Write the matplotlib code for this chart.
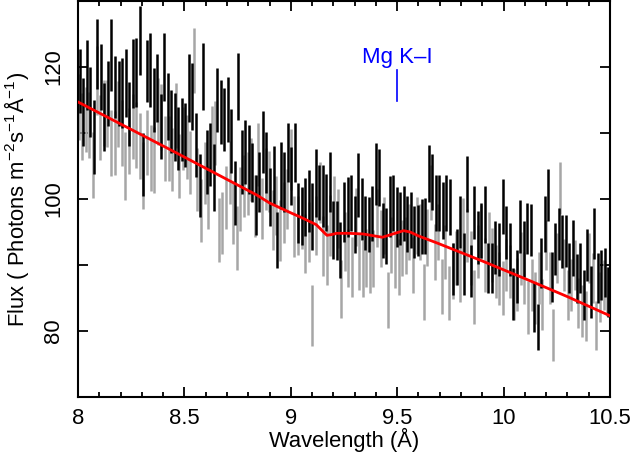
import numpy as np
import matplotlib
matplotlib.use("Agg")
import matplotlib.pyplot as plt
from matplotlib.ticker import MultipleLocator

plt.rcParams.update({
    "font.family": ["Liberation Sans", "DejaVu Sans"],
    "mathtext.fontset": "custom",
    "mathtext.rm": "Liberation Sans",
    "mathtext.it": "Liberation Sans:italic",
    "mathtext.bf": "Liberation Sans:bold",
    "font.size": 15.8,
})

# first spectrum (black), bin centres spread evenly over 8-10.5 A
black_flux = [
    117.9, 113.2, 118.8, 114.7, 109.4, 122.0, 118.5, 112.4, 116.0, 121.8, 117.0, 116.0, 116.0,
    117.6, 112.9, 119.0, 119.2, 124.0, 105.2, 119.4, 119.5, 115.0, 116.8, 111.0, 120.0, 114.0,
    111.7, 110.9, 109.2, 110.5, 109.7, 116.8, 115.5, 108.2, 102.0, 118.6, 105.6, 106.7, 103.3,
    115.0, 113.2, 112.0, 113.6, 108.8, 100.9, 117.0, 105.6, 107.1, 106.0, 104.0, 99.1, 102.6,
    108.6, 105.5, 100.3, 103.6, 93.8, 103.6, 102.6, 107.0, 103.5, 107.0, 97.9, 97.4, 98.8,
    99.7, 97.3, 102.4, 101.0, 100.4, 99.5, 102.6, 95.3, 95.2, 92.3, 98.0, 98.8,
    99.4, 96.1, 102.1, 98.5, 96.4, 96.1, 97.8, 103.8, 103.3, 95.2, 94.4, 98.9, 99.4,
    97.3, 97.1, 97.8, 96.2, 96.8, 95.0, 95.2, 95.8, 95.9, 103.9, 102.6, 99.4,
    99.4, 98.3, 99.4, 98.8, 89.4, 91.2, 96.5, 90.2, 102.3, 89.1, 97.9, 94.2, 95.2,
    97.6, 89.5, 89.5, 92.6, 92.3, 98.9, 94.9, 92.3, 85.6, 88.2, 95.8, 92.4, 95.5,
    95.3, 83.6, 80.6, 90.3, 96.2, 100.6, 88.2, 92.4, 94.7, 93.5, 93.6, 89.5,
    92.6, 88.0, 89.5, 85.5, 91.5, 85.9, 94.8, 88.0, 88.5, 88.8, 85.9,
]
black_err = [
    4.9, 5.2, 5.3, 5.3, 5.6, 5.3, 5.0, 5.1, 4.9, 5.4, 4.7, 4.9, 5.3,
    5.2, 4.9, 5.2, 5.2, 5.2, 4.8, 4.7, 5.6, 4.9, 5.1, 4.9, 5.2, 5.1,
    4.8, 5.1, 4.8, 4.8, 4.8, 5.1, 5.1, 4.8, 4.8, 5.1, 4.8, 4.8, 5.1,
    4.8, 4.8, 4.8, 4.9, 4.8, 4.9, 5.1, 4.8, 4.8, 5.2, 4.5, 4.5, 4.5,
    4.7, 4.6, 4.4, 4.5, 4.3, 5.1, 4.5, 4.5, 4.4, 4.5, 4.5, 4.4, 4.4,
    4.7, 5.1, 5.1, 4.2, 4.7, 4.3, 4.5, 4.4, 4.5, 4.2, 4.5, 4.5,
    4.3, 4.3, 4.8, 4.7, 4.1, 4.2, 4.2, 4.7, 4.3, 4.2, 4.2, 4.6, 4.3,
    4.5, 4.0, 4.2, 4.2, 4.3, 4.0, 3.9, 4.2, 4.2, 4.3, 4.2, 4.2,
    4.2, 4.3, 4.3, 4.3, 3.9, 4.3, 4.0, 4.7, 4.2, 3.9, 4.0, 4.0, 4.2,
    4.3, 3.8, 3.8, 4.0, 4.0, 4.2, 4.0, 4.0, 3.9, 4.0, 4.0, 4.2, 3.9,
    4.0, 3.8, 3.5, 3.8, 4.2, 4.0, 3.8, 3.9, 3.9, 4.0, 3.9, 3.8,
    4.2, 3.7, 3.8, 3.8, 3.9, 3.9, 3.9, 3.8, 3.8, 3.7, 3.8,
]

# second spectrum (grey)
grey_flux = [
    114.0, 111.0, 112.0, 111.2, 105.2, 118.0, 110.8, 113.0, 113.0, 108.5, 108.5, 112.9, 110.0,
    105.0, 108.8, 111.0, 109.7, 108.0, 103.6, 108.6, 106.2, 105.9, 113.3, 112.4, 107.6,
    107.7, 106.0, 112.6, 105.0, 109.2, 107.9, 105.5, 121.0, 103.0, 98.3, 104.0, 100.2, 109.2,
    110.0, 95.3, 96.4, 100.2, 104.0, 97.9, 94.1, 100.0, 102.0, 102.3, 104.5, 99.0, 106.7,
    98.6, 103.0, 102.6, 96.8, 99.0, 95.2, 98.0, 100.0, 106.0, 95.8, 96.0, 97.0, 93.3,
    95.0, 82.3, 96.0, 101.0, 92.9, 91.5, 96.0, 99.0, 97.0, 86.4, 93.6, 91.0, 89.7,
    97.3, 90.5, 89.5, 91.0, 90.0, 91.0, 97.1, 94.0, 96.0, 84.7, 93.0, 90.8,
    89.7, 92.6, 93.0, 95.0, 90.0, 96.0, 95.0, 85.9, 94.2, 101.0, 92.0, 95.0,
    86.7, 92.0, 85.8, 89.1, 91.0, 88.5, 96.0, 94.5, 91.0, 85.2, 92.0, 95.0, 90.0,
    94.0, 91.5, 89.0, 88.0, 86.5, 90.0, 89.0, 85.5, 87.0, 91.0, 88.0, 83.5,
    87.0, 85.0, 88.0, 84.0, 93.0, 88.0, 79.4, 91.0, 101.7, 90.0, 85.5,
    87.0, 90.0, 84.2, 83.0, 82.3, 91.0, 88.0, 80.8, 85.2, 87.0, 86.0,
]
grey_err = [
    5.0, 5.1, 4.9, 5.0, 5.0, 5.2, 4.9, 5.0, 5.1, 5.0, 4.9, 5.0, 5.0,
    5.1, 5.0, 4.9, 5.0, 5.0, 5.1, 4.9, 5.0, 5.0, 5.1, 5.0, 4.9,
    4.9, 4.8, 4.9, 4.8, 4.8, 4.9, 4.8, 4.9, 4.8, 4.8, 4.7, 4.8, 4.9,
    4.8, 4.8, 4.7, 4.8, 4.8, 4.7, 4.8, 4.8, 4.7, 4.8, 4.8, 4.7, 4.8,
    4.6, 4.7, 4.6, 4.6, 4.5, 4.6, 4.6, 4.5, 4.6, 4.6, 4.5, 4.6, 4.5,
    4.6, 4.6, 4.5, 4.6, 4.5, 4.5, 4.6, 4.5, 4.5, 4.4, 4.5, 4.4, 4.5,
    4.4, 4.3, 4.3, 4.4, 4.3, 4.3, 4.4, 4.3, 4.3, 4.3, 4.2, 4.3,
    4.3, 4.2, 4.3, 4.3, 4.2, 4.3, 4.2, 4.2, 4.3, 4.2, 4.2, 4.2,
    4.2, 4.1, 4.1, 4.2, 4.1, 4.1, 4.1, 4.0, 4.1, 4.1, 4.0, 4.1, 4.1,
    4.0, 4.1, 4.0, 4.0, 4.1, 4.0, 4.0, 3.9, 4.0, 4.0, 3.9, 4.0,
    3.9, 4.0, 3.9, 3.9, 3.8, 3.9, 3.9, 3.8, 3.9, 3.9, 3.8,
    3.9, 3.8, 3.8, 3.9, 3.8, 3.8, 3.8, 3.7, 3.8, 3.8, 3.7,
]

# fitted model (red)
model_wave = [8.0, 8.42, 8.84, 8.90, 9.0, 9.056, 9.12, 9.16, 9.17, 9.19, 9.215, 9.27, 9.34,
              9.43, 9.48, 9.53, 9.56, 9.60, 9.69, 9.9, 10.11, 10.3, 10.5]
model_flux = [114.7, 107.7, 100.6, 99.4, 97.9, 97.1, 96.1, 94.8, 94.5, 94.6, 94.8, 94.8, 94.7,
              94.2, 94.7, 95.2, 95.0, 94.4, 93.3, 90.6, 87.8, 85.2, 82.3]

line_label = "Mg K\u2013I"
line_wave = 9.5

xmin, xmax = 8.0, 10.5
nb, ng = len(black_flux), len(grey_flux)
black_wave = xmin + (np.arange(nb) + 0.5) * (xmax - xmin) / nb
grey_wave = xmin + (np.arange(ng) + 0.2) * (xmax - xmin) / ng

fig = plt.figure(figsize=(6.32, 4.54), dpi=100)
ax = fig.add_axes([0.1234, 0.1256, 0.8418, 0.8722])

ax.errorbar(grey_wave, grey_flux, yerr=grey_err, fmt="none", ecolor="#a6a6a6",
            elinewidth=1.8, capsize=0, zorder=2)
ax.errorbar(black_wave, black_flux, yerr=black_err, fmt="none", ecolor="black",
            elinewidth=1.8, capsize=0, zorder=3)
ax.plot(model_wave, model_flux, color="red", lw=2.0, zorder=4)

ax.plot([line_wave, line_wave], [114.9, 119.5], color="blue", lw=1.2, zorder=5)
ax.text(line_wave, 120.6, line_label, color="blue", ha="center", va="baseline",
        fontsize=16)

ax.set_xlim(xmin, xmax)
ax.set_ylim(70, 130)
ax.xaxis.set_minor_locator(MultipleLocator(0.1))
ax.set_xticks([8, 8.5, 9, 9.5, 10, 10.5])
ax.set_xticklabels(["8", "8.5", "9", "9.5", "10", "10.5"])
ax.set_yticks([70, 80, 90, 100, 110, 120, 130])
ax.set_yticklabels(["", "80", "", "100", "", "120", ""], rotation=90, va="center")

ax.tick_params(which="both", direction="in", top=True, right=True, width=1.3)
ax.tick_params(which="major", length=7.2)
ax.tick_params(which="minor", length=3.6)
ax.tick_params(axis="x", which="major", pad=8)
ax.tick_params(axis="y", which="major", pad=10)
for sp in ax.spines.values():
    sp.set_linewidth(1.5)

ax.set_xlabel("Wavelength (\u00c5)", labelpad=-1)
ax.set_ylabel("Flux ( Photons m$^{-2}$s$^{-1}$\u00c5$^{-1}$)", labelpad=9)

fig.savefig("out.png", dpi=100)
